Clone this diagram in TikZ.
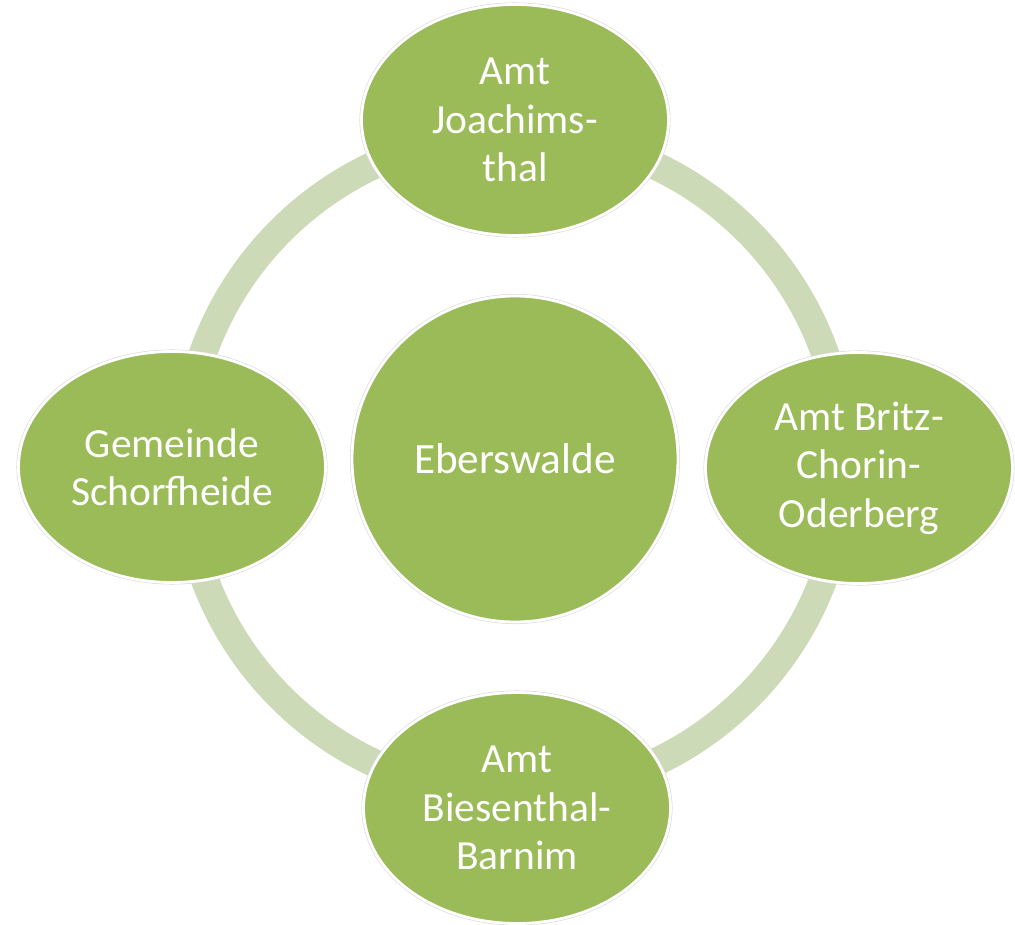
\documentclass[tikz,border=0pt]{standalone}
\usepackage{fontspec}
\setmainfont{Carlito}
\usepackage{tikz}
\usetikzlibrary{shapes.geometric, backgrounds}
\definecolor{leafgreen}{HTML}{9BBB59}
\definecolor{ringgreen}{HTML}{CDDAB7}

\begin{document}
\begin{tikzpicture}[
    amt/.style={ellipse, fill=leafgreen, draw=white, line width=1.6pt,
        preaction={draw=black!15, line width=2.3pt},
        minimum width=6.14cm, minimum height=4.62cm, inner sep=0pt,
        text=white, align=center, font=\fontsize{23.6}{27.6}\selectfont},
    city/.style={amt, circle, minimum size=6.52cm, font=\fontsize{24.6}{28}\selectfont},
    ring/.style={ringgreen, line width=0.56cm}
]
    \useasboundingbox (-10.28,-9.2) rectangle (10.02,9.28);
    \coordinate (hub) at (0,0);

    % Centre
    \node[city] (ebw) at (0.02,0.1) {Eberswalde};

    % Surrounding Aemter
    \node[amt] (joa) at (0.02,6.88) {Amt\\Joachims-\\thal};
    \node[amt] (bco) at (6.9,-0.08) {Amt Britz-\\Chorin-\\Oderberg};
    \node[amt] (bba) at (0.06,-6.88) {Amt\\Biesenthal-\\Barnim};
    \node[amt] (sch) at (-6.84,-0.06) {Gemeinde\\Schorfheide};

    % Ring behind
    \begin{scope}[on background layer]
        \draw[ring] (hub) circle (6.6);
    \end{scope}
\end{tikzpicture}
\end{document}
